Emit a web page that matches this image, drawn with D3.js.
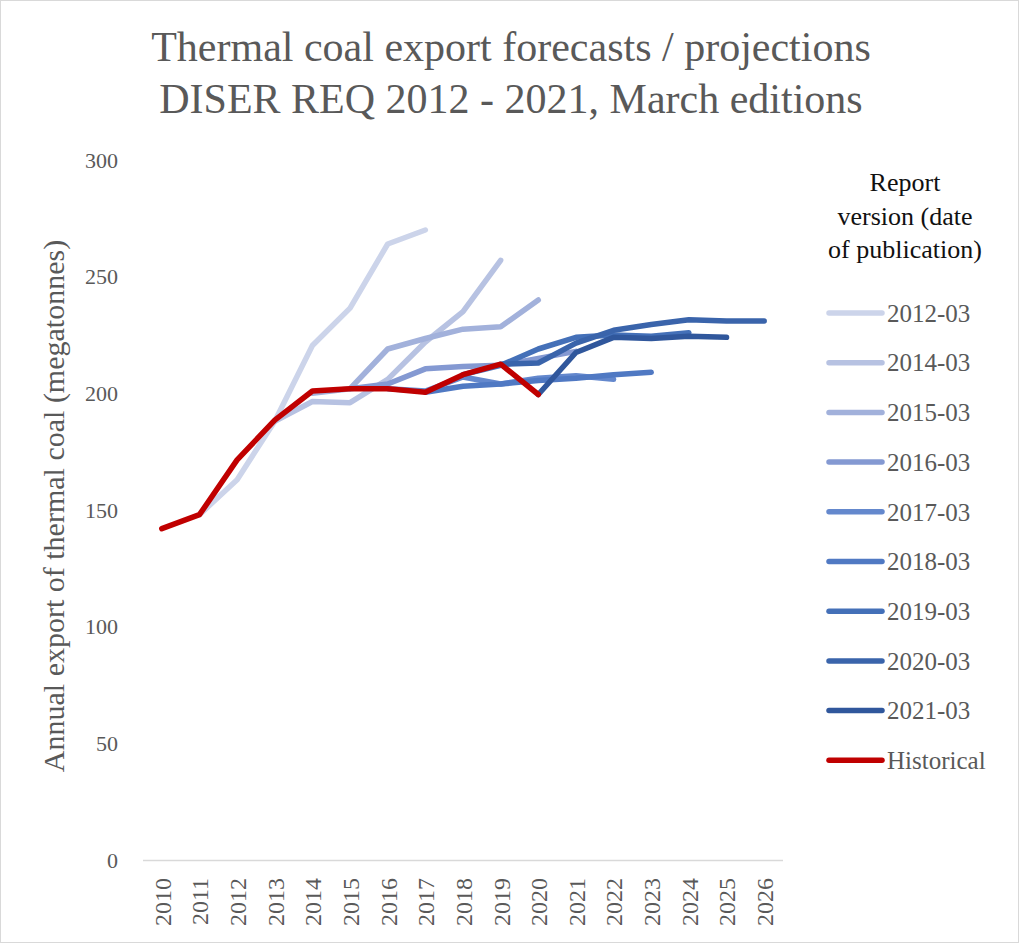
<!DOCTYPE html>
<html><head><meta charset="utf-8">
<script src="https://cdn.jsdelivr.net/npm/d3@7"></script>
<style>
html,body{margin:0;padding:0;background:#fff;}
svg{display:block;}
</style></head>
<body>
<svg id="chart" width="1024" height="946"></svg>
<script>
// ---- data ----
const years = ["2010","2011","2012","2013","2014","2015","2016","2017","2018","2019","2020","2021","2022","2023","2024","2025","2026"];
const yTicks = [0,50,100,150,200,250,300];
const seriesNames = ["2012-03","2014-03","2015-03","2016-03","2017-03","2018-03","2019-03","2020-03","2021-03","Historical"];
const seriesColors = ["#ccd4ea","#b7c2e2","#a2b1db","#8499d2","#6488cd","#5079c3","#4470b8","#3a64ab","#30579c","#c00000"];
const r2012 = [null,148,163,188,220.5,236.5,264,270];
const r2014 = [null,null,null,188,196.5,196,206,222,235,257];
const r2015 = [null,null,null,null,200,202,219,223.5,227.5,228.5,240];
const r2016 = [null,null,null,null,null,202,204,210.5,211.5,212,215,218];
const r2017 = [null,null,null,null,null,null,202,201,207,204,206.5,207.5,206];
const r2018 = [null,null,null,null,null,null,null,200.5,203,204,205.5,206.5,208,209];
const r2019 = [null,null,null,null,null,null,null,null,208,212,219,224,225,224.5,226];
const r2020 = [null,null,null,null,null,null,null,null,null,212.5,213,221.5,227,229.5,231.5,231,231];
const r2021 = [null,null,null,null,null,null,null,null,null,null,199.5,217.5,224,223.5,224.5,224];
const historical = [142,148,171.5,188.5,201,202,202,200.5,208,212.5,199.5];
const seriesValues = [r2012,r2014,r2015,r2016,r2017,r2018,r2019,r2020,r2021,historical];

// ---- layout ----
const svg = d3.select("#chart");
const serif = "'Liberation Serif', 'DejaVu Serif', serif";
const txt = "#595959";
const plot = {left:143, right:783, top:160, bottom:860};

svg.append("rect").attr("x",0.5).attr("y",0.5).attr("width",1018).attr("height",942)
  .attr("fill","#fff").attr("stroke","#d9d9d9").attr("stroke-width",1);

const x = d3.scalePoint().domain(years).range([plot.left, plot.right]).padding(0.5);
const y = d3.scaleLinear().domain([0,300]).range([plot.bottom, plot.top]);

// title
svg.append("text").attr("x",511).attr("y",61).attr("text-anchor","middle")
  .attr("font-family",serif).attr("font-size",42).attr("fill",txt)
  .text("Thermal coal export forecasts / projections");
svg.append("text").attr("x",511).attr("y",113).attr("text-anchor","middle")
  .attr("font-family",serif).attr("font-size",42).attr("fill",txt)
  .text("DISER REQ 2012 - 2021, March editions");

// y axis (labels only)
const yAxis = d3.axisLeft(y).tickValues(yTicks).tickSize(0).tickPadding(0);
const gy = svg.append("g").attr("transform",`translate(118,0)`).call(yAxis);
gy.select(".domain").remove();
gy.selectAll("text").attr("font-family",serif).attr("font-size",22).attr("fill",txt);

// x axis
const xAxis = d3.axisBottom(x).tickSize(0).tickPadding(0);
const gx = svg.append("g").attr("transform",`translate(0,${plot.bottom})`).call(xAxis);
gx.select(".domain").remove();
gx.selectAll("text").attr("font-family",serif).attr("font-size",24).attr("fill",txt)
  .attr("transform","rotate(-90)").attr("text-anchor","end")
  .attr("x",-18).attr("y",0).attr("dy","0.35em");
svg.append("line").attr("x1",plot.left).attr("x2",plot.right)
  .attr("y1",plot.bottom+0.5).attr("y2",plot.bottom+0.5)
  .attr("stroke","#d9d9d9").attr("stroke-width",1.5);

// y axis title
svg.append("text").attr("transform",`translate(64,506) rotate(-90)`).attr("text-anchor","middle")
  .attr("font-family",serif).attr("font-size",30).attr("fill",txt)
  .text("Annual export of thermal coal (megatonnes)");

// lines
const line = d3.line().defined(d => d.v != null).x(d => x(d.year)).y(d => y(d.v));
seriesNames.forEach((name,i) => {
  const data = years.map((yr,j) => ({year:yr, v: seriesValues[i][j] === undefined ? null : seriesValues[i][j]}));
  svg.append("path").datum(data).attr("d",line).attr("fill","none")
    .attr("stroke",seriesColors[i]).attr("stroke-width",5.5)
    .attr("stroke-linejoin","round").attr("stroke-linecap","round");
});

// legend
const lg = svg.append("g");
["Report","version (date","of publication)"].forEach((t,i) => {
  lg.append("text").attr("x",905).attr("y",191 + i*33.5).attr("text-anchor","middle")
    .attr("font-family",serif).attr("font-size",26).attr("fill","#111").text(t);
});
seriesNames.forEach((name,i) => {
  const yy = 313 + i*49.7;
  lg.append("line").attr("x1",829).attr("x2",882).attr("y1",yy).attr("y2",yy)
    .attr("stroke",seriesColors[i]).attr("stroke-width",5.5).attr("stroke-linecap","round");
  lg.append("text").attr("x",887).attr("y",yy).attr("dy","0.35em")
    .attr("font-family",serif).attr("font-size",25).attr("fill",txt).text(name);
});
</script>
</body></html>
